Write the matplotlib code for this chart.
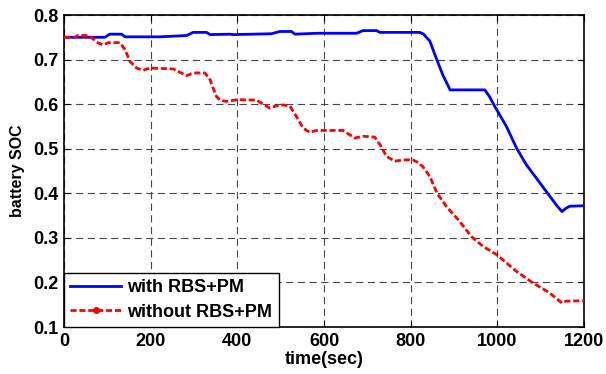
import matplotlib
matplotlib.use("Agg")
import matplotlib.pyplot as plt
from matplotlib.lines import Line2D

# ---- data ----
t_with = [0, 95, 102, 106, 133, 141, 221, 283, 298, 329, 337, 383, 390, 479, 498,
          525, 533, 583, 675, 690, 721, 729, 821, 830, 836, 844, 859, 874, 891,
          971, 982, 994, 1021, 1044, 1067, 1090, 1113, 1136, 1149, 1158, 1167, 1200]
soc_with = [0.750, 0.750, 0.755, 0.757, 0.757, 0.751, 0.751, 0.754, 0.761, 0.761,
            0.756, 0.757, 0.756, 0.758, 0.763, 0.763, 0.757, 0.759, 0.759, 0.765,
            0.765, 0.761, 0.761, 0.757, 0.750, 0.742, 0.703, 0.666, 0.632, 0.632,
            0.617, 0.595, 0.550, 0.502, 0.464, 0.434, 0.404, 0.374, 0.359, 0.366,
            0.371, 0.372]

t_without = [0, 25, 32, 56, 65, 79, 91, 102, 129, 141, 152, 167, 183, 198, 252,
             283, 298, 325, 337, 344, 352, 360, 375, 400, 444, 475, 498, 521, 536,
             552, 567, 583, 644, 671, 690, 717, 732, 744, 763, 783, 805, 815, 828,
             844, 861, 882, 913, 940, 967, 999, 1044, 1082, 1120, 1149, 1159, 1200]
soc_without = [0.750, 0.750, 0.754, 0.754, 0.748, 0.737, 0.733, 0.738, 0.738, 0.722,
               0.696, 0.681, 0.676, 0.681, 0.679, 0.664, 0.670, 0.670, 0.655, 0.636,
               0.617, 0.609, 0.606, 0.610, 0.609, 0.591, 0.599, 0.596, 0.573, 0.546,
               0.537, 0.541, 0.541, 0.524, 0.528, 0.526, 0.505, 0.483, 0.472, 0.475,
               0.475, 0.470, 0.460, 0.438, 0.400, 0.371, 0.337, 0.303, 0.281, 0.262,
               0.225, 0.199, 0.177, 0.154, 0.158, 0.159]

x_ticks = [0, 200, 400, 600, 800, 1000, 1200]
y_ticks = [0.1, 0.2, 0.3, 0.4, 0.5, 0.6, 0.7, 0.8]
label_with = "with RBS+PM"
label_without = "without RBS+PM"

plt.rcParams['font.family'] = ['Liberation Sans', 'DejaVu Sans']
plt.rcParams['font.weight'] = 'bold'

fig = plt.figure(figsize=(6.06, 3.74), dpi=100)
ax = fig.add_axes([64/606, 1-327/374, (584-64)/606, (327-15)/374])

ax.plot(t_with, soc_with, color='#0000ff', lw=2.0, zorder=3)
ax.plot(t_without, soc_without, color='#ff0000', lw=2.0, dashes=(2.2, 1.0), zorder=3)

ax.set_xlim(0, 1200)
ax.set_ylim(0.1, 0.8)
ax.set_xticks(x_ticks)
ax.set_yticks(y_ticks)
ax.set_xticklabels([str(v) for v in x_ticks])
ax.set_yticklabels([f"{v:.1f}" for v in y_ticks])
ax.tick_params(direction='in', length=4, width=0.8, top=True, right=True,
               labelsize=13, pad=4)
for lab in ax.get_xticklabels() + ax.get_yticklabels():
    lab.set_fontweight('bold')

ax.grid(True, color='0.28', lw=0.8, dashes=(6.5, 4))
for s in ax.spines.values():
    s.set_linewidth(1.2)
    s.set_color('black')

ax.set_xlabel('time(sec)', fontsize=13, fontweight='bold', labelpad=1)
ax.set_ylabel('battery SOC', fontsize=11.5, fontweight='bold', labelpad=6)

h1 = Line2D([], [], color='#0000ff', lw=2.0)
h2 = Line2D([], [], color='#ff0000', lw=2.0, dashes=(2.2, 1.0), marker='.',
            markersize=8)
leg = ax.legend([h1, h2], [label_with, label_without], loc='lower left',
                bbox_to_anchor=(0, 0), borderaxespad=0, fancybox=False,
                framealpha=1, edgecolor='black', handlelength=2.8,
                handletextpad=0.35, labelspacing=0.4, borderpad=0.35,
                numpoints=1, prop={'size': 13, 'weight': 'bold'})
leg.get_frame().set_linewidth(1.0)
leg.set_zorder(5)

fig.savefig('out.png', dpi=100)
